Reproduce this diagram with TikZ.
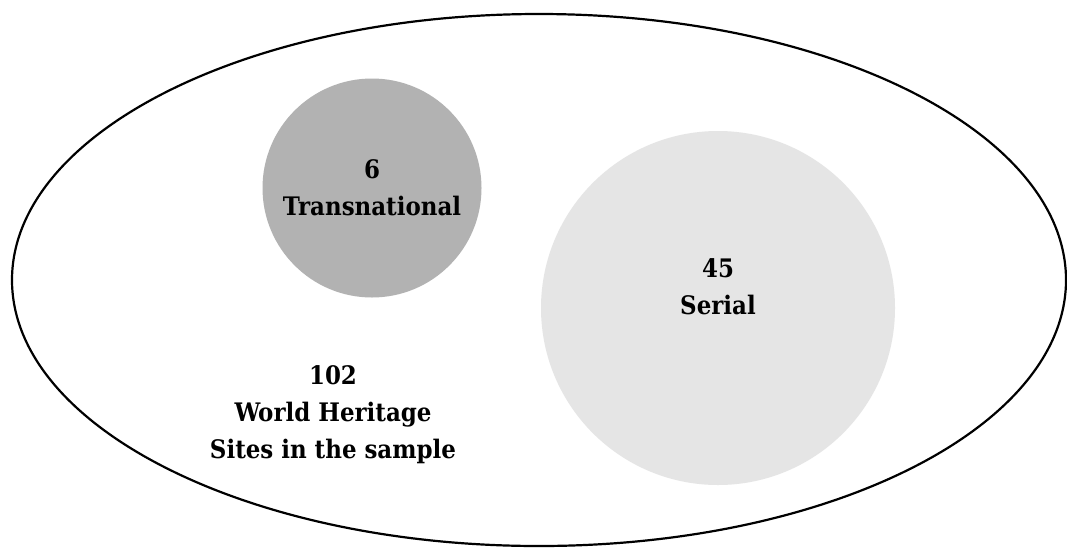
\documentclass[tikz,border=0pt]{standalone}
\usepackage{fontspec}
\setmainfont{DejaVu Serif Condensed}
\usetikzlibrary{shapes.geometric}
\begin{document}
\begin{tikzpicture}[x=1pt,y=-1pt,
  label text/.style={font=\bfseries\fontsize{25.5}{37}\selectfont, align=center, inner sep=0pt, text=black},
  set circle/.style={circle, draw=none, inner sep=0pt}]
\useasboundingbox[fill=white] (0,0) rectangle (1067,547);
% the whole sample
\node[ellipse, draw=black, line width=2.2pt, minimum width=1054pt, minimum height=532pt, inner sep=0pt] (all) at (539,280) {};
% subsets
\node[set circle, fill=black!30, minimum size=219pt] (trans) at (372,188) {};
\node[set circle, fill=black!10, minimum size=354pt] (serial) at (718,308) {};
% labels
\node[label text] (transtxt) at (372,188) {6\\Transnational};
\node[label text] (serialtxt) at (718,287) {45\\Serial};
\node[label text] (alltxt) at (333,415) {102\\World Heritage\\Sites in the sample};
\end{tikzpicture}
\end{document}
